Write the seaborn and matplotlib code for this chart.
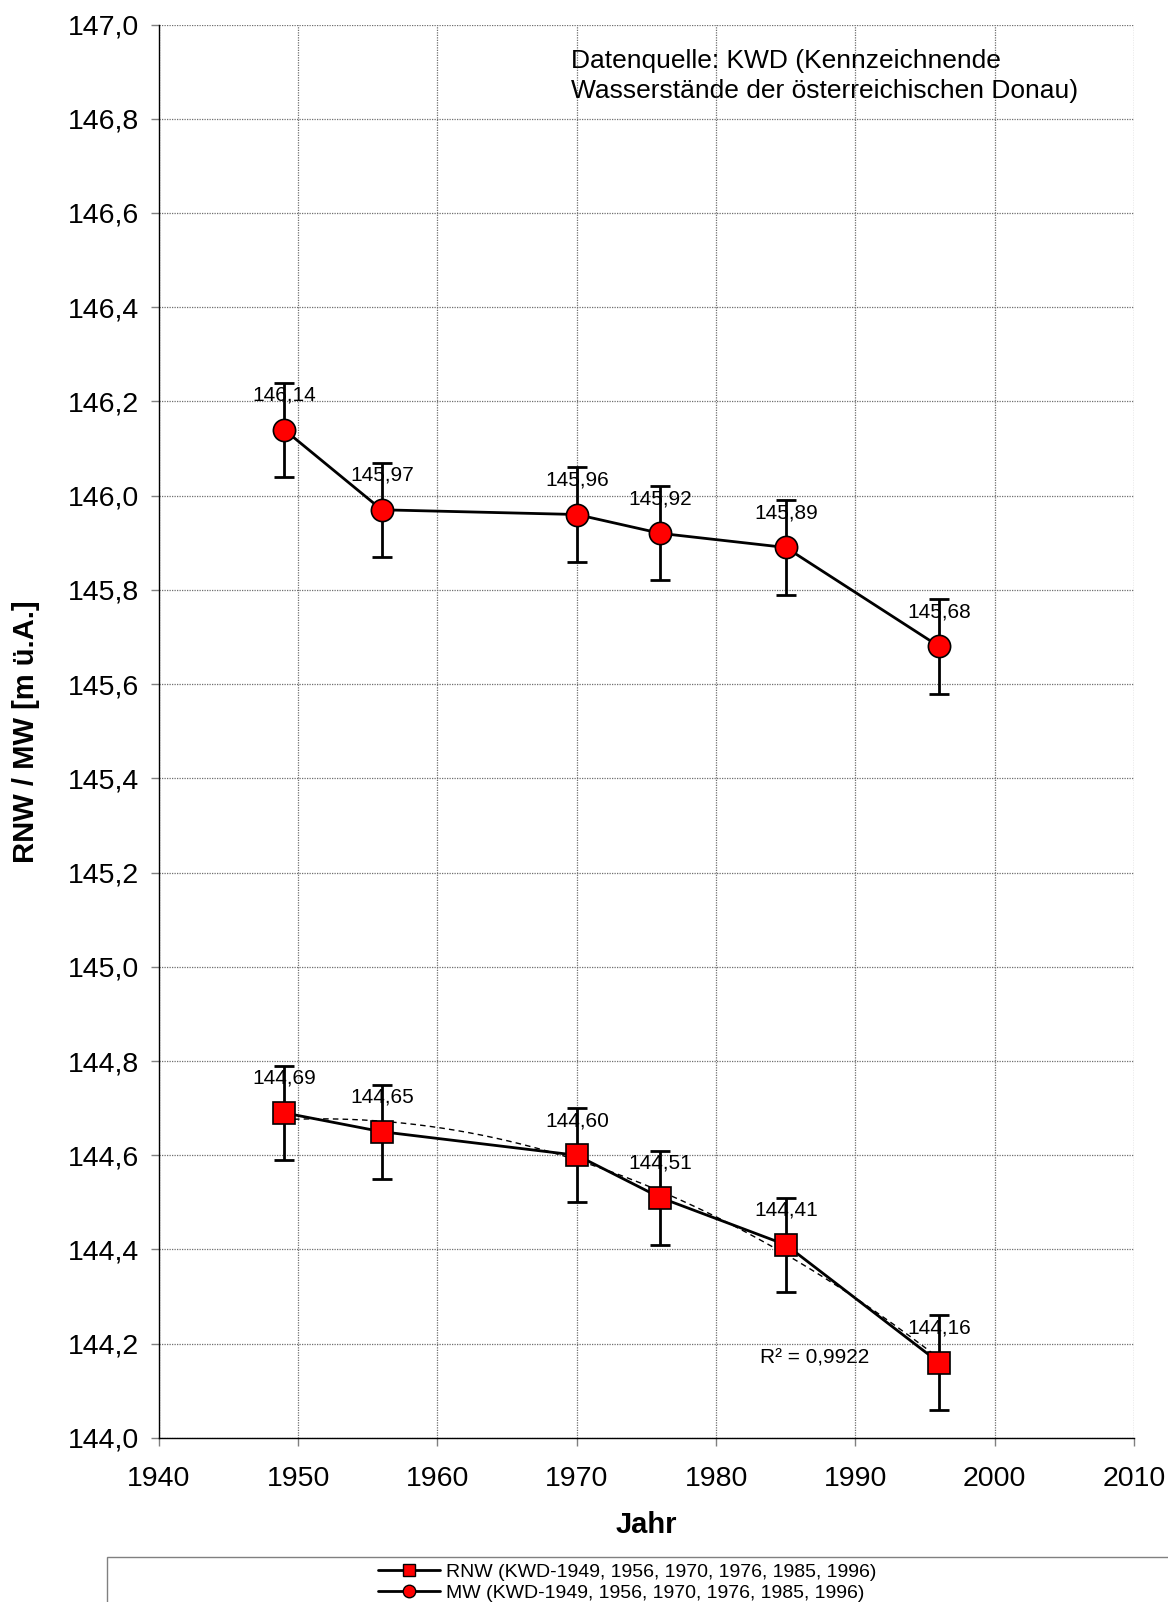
import numpy as np
import pandas as pd
import matplotlib
matplotlib.use("Agg")
import matplotlib.pyplot as plt
from matplotlib.ticker import FuncFormatter, MultipleLocator
from matplotlib.patches import Rectangle
from matplotlib.lines import Line2D
import seaborn as sns

years = [1949, 1956, 1970, 1976, 1985, 1996]
mw = [146.14, 145.97, 145.96, 145.92, 145.89, 145.68]
rnw = [144.69, 144.65, 144.60, 144.51, 144.41, 144.16]
err = 0.1
legend_rnw = "RNW (KWD-1949, 1956, 1970, 1976, 1985, 1996)"
legend_mw = "MW (KWD-1949, 1956, 1970, 1976, 1985, 1996)"
source_text = "Datenquelle: KWD (Kennzeichnende\nWasserstände der österreichischen Donau)"

sns.set_theme(style="white")
plt.rcParams["font.family"] = ["Liberation Sans", "DejaVu Sans"]
plt.rcParams.update({"text.color": "black", "axes.labelcolor": "black",
                     "xtick.color": "black", "ytick.color": "black"})

df = pd.DataFrame({"Jahr": years, "MW": mw, "RNW": rnw})

fig = plt.figure(figsize=(11.68, 16.02), dpi=100)
ax = fig.add_axes([0.136, 0.1024, 0.835, 0.8823])

# error bars behind the markers
for col in ["MW", "RNW"]:
    ax.errorbar(df["Jahr"], df[col], yerr=err, fmt="none", ecolor="black",
                elinewidth=2, capsize=7, capthick=2, zorder=3)

sns.lineplot(data=df, x="Jahr", y="MW", ax=ax, color="black", linewidth=2,
             marker="o", markersize=16, markerfacecolor="red",
             markeredgecolor="black", markeredgewidth=1.2, zorder=4)
sns.lineplot(data=df, x="Jahr", y="RNW", ax=ax, color="black", linewidth=2,
             marker="s", markersize=16, markerfacecolor="red",
             markeredgecolor="black", markeredgewidth=1.2, zorder=4)

# second-order polynomial trend for RNW
coef = np.polyfit(years, rnw, 2)
xt = np.linspace(years[0], years[-1], 200)
ax.plot(xt, np.polyval(coef, xt), color="black", linestyle=(0, (4, 3)),
        linewidth=1, zorder=3.5)
fit = np.polyval(coef, years)
r2 = 1 - np.sum((np.array(rnw) - fit) ** 2) / np.sum((np.array(rnw) - np.mean(rnw)) ** 2)
ax.text(1987.1, 144.17, "R² = " + f"{r2:.4f}".replace(".", ","), fontsize=15,
        ha="center", va="center")

fmt2 = lambda v: f"{v:.2f}".replace(".", ",")
for x, y in zip(years, mw):
    ax.annotate(fmt2(y), (x, y), xytext=(0, 18), textcoords="offset points",
                ha="center", va="bottom", fontsize=15, zorder=5)
for x, y in zip(years, rnw):
    ax.annotate(fmt2(y), (x, y), xytext=(0, 18), textcoords="offset points",
                ha="center", va="bottom", fontsize=15, zorder=5)

ax.set_xlim(1940, 2010)
ax.set_ylim(144.0, 147.0)
ax.xaxis.set_major_locator(MultipleLocator(10))
ax.yaxis.set_major_locator(MultipleLocator(0.2))
ax.yaxis.set_major_formatter(FuncFormatter(lambda v, p: f"{v:.1f}".replace(".", ",")))
ax.tick_params(axis="both", labelsize=20.5, length=6, width=1, color="gray",
               direction="out", left=True, bottom=True)
ax.tick_params(axis="x", pad=14)
ax.tick_params(axis="y", pad=8)
ax.grid(True, color="#6f6f6f", linestyle=(0, (1, 1)), linewidth=0.9)
for side in ["top", "right"]:
    ax.spines[side].set_visible(False)
for side in ["left", "bottom"]:
    ax.spines[side].set_color("black")
    ax.spines[side].set_linewidth(1)

ax.set_xlabel("Jahr", fontsize=21, fontweight="bold", labelpad=14)
ax.set_ylabel("RNW / MW [m ü.A.]", fontsize=21, fontweight="bold", labelpad=20)

ax.text(0.423, 0.983, source_text, transform=ax.transAxes, fontsize=19,
        ha="left", va="top", linespacing=1.35)

# legend box at the foot of the figure
fig.patches.append(Rectangle((107 / 1168, -0.01), 1.0, (1602 - 1557) / 1602 + 0.01,
                             transform=fig.transFigure, facecolor="white",
                             edgecolor="#808080", linewidth=1))
handles = [
    Line2D([], [], color="black", linewidth=2, marker="s", markersize=9,
           markerfacecolor="red", markeredgecolor="black"),
    Line2D([], [], color="black", linewidth=2, marker="o", markersize=9,
           markerfacecolor="red", markeredgecolor="black"),
]
fig.legend(handles, [legend_rnw, legend_mw], loc="upper center",
           bbox_to_anchor=(0.537, (1602 - 1550) / 1602), frameon=False,
           fontsize=14, handlelength=3.2, handletextpad=0.3, labelspacing=0.15,
           borderpad=0.2)

fig.savefig("out.png", dpi=100)
